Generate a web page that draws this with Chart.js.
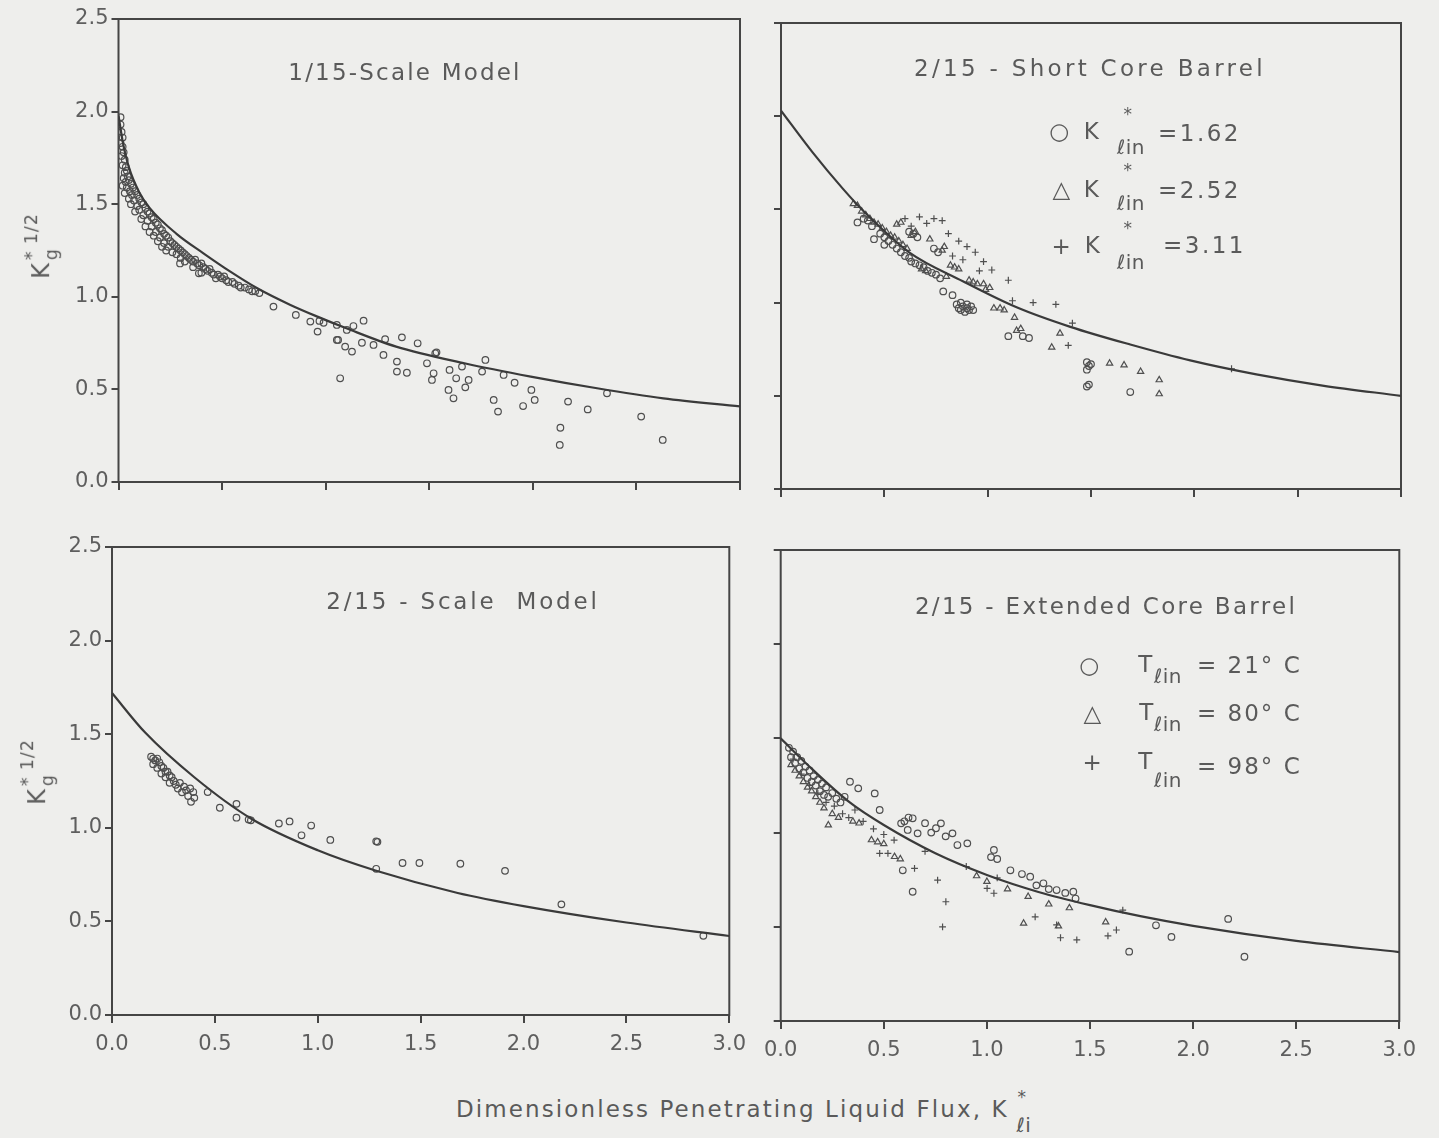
<!DOCTYPE html>
<html><head><meta charset="utf-8">
<script src="https://cdn.jsdelivr.net/npm/chart.js"></script>
<style>
html,body{margin:0;padding:0;background:#eeeeec;}
#wrap{position:relative;width:1439px;height:1138px;overflow:hidden;background:#eeeeec;font-family:"DejaVu Sans",sans-serif;color:#555;}
canvas{position:absolute;}
.t{position:absolute;white-space:nowrap;font-size:23px;letter-spacing:1.5px;color:#5a5a5a;transform:translate(-50%,-50%);line-height:1;}
.l{position:absolute;white-space:nowrap;font-size:23px;letter-spacing:1.5px;color:#5a5a5a;transform:translate(0,-50%);line-height:1;}
.s{font-size:17px;letter-spacing:0.5px;}
.sb{font-size:20px;letter-spacing:0.5px;}
.yt{position:absolute;white-space:nowrap;font-size:24px;color:#5a5a5a;transform:translate(-50%,-50%) rotate(-90deg);line-height:1;letter-spacing:1px;}
.st{display:inline-block;vertical-align:middle;font-size:0.72em;line-height:1.15;margin-left:2px;text-align:left;}
.st span{display:block;}
</style></head><body><div id="wrap">
<canvas id="c1"></canvas><canvas id="c2"></canvas><canvas id="c3"></canvas><canvas id="c4"></canvas>

<div class="t" style="left:405px;top:72px;letter-spacing:2.2px;">1/15-Scale Model</div>
<div class="t" style="left:1090px;top:68px;letter-spacing:3.3px;">2/15 - Short Core Barrel</div>
<div class="t" style="left:463px;top:601px;letter-spacing:2.8px;">2/15 - Scale &nbsp;Model</div>
<div class="t" style="left:1106px;top:606px;letter-spacing:2.3px;">2/15 - Extended Core Barrel</div>

<div class="t" style="left:1060px;top:131px;">○</div>
<div class="t" style="left:1092px;top:131px;">K</div>
<div class="t s" style="left:1128px;top:114px;">*</div>
<div class="t sb" style="left:1131px;top:147px;">ℓin</div>
<div class="l" style="left:1158px;top:133px;letter-spacing:2.5px;">=1.62</div>
<div class="t" style="left:1062px;top:189px;">△</div>
<div class="t" style="left:1092px;top:189px;">K</div>
<div class="t s" style="left:1128px;top:170px;">*</div>
<div class="t sb" style="left:1131px;top:203px;">ℓin</div>
<div class="l" style="left:1158px;top:190px;letter-spacing:2.5px;">=2.52</div>
<div class="t" style="left:1062px;top:246px;">+</div>
<div class="t" style="left:1093px;top:245px;">K</div>
<div class="t s" style="left:1128px;top:228px;">*</div>
<div class="t sb" style="left:1131px;top:262px;">ℓin</div>
<div class="l" style="left:1163px;top:245px;letter-spacing:2.5px;">=3.11</div>

<div class="t" style="left:1090px;top:665px;">○</div>
<div class="t" style="left:1146px;top:664px;">T</div>
<div class="t sb" style="left:1168px;top:676px;">ℓin</div>
<div class="l" style="left:1197px;top:665px;letter-spacing:2px;">= 21° C</div>
<div class="t" style="left:1093px;top:713px;">△</div>
<div class="t" style="left:1147px;top:712px;">T</div>
<div class="t sb" style="left:1168px;top:724px;">ℓin</div>
<div class="l" style="left:1197px;top:713px;letter-spacing:2px;">= 80° C</div>
<div class="t" style="left:1093px;top:762px;">+</div>
<div class="t" style="left:1146px;top:761px;">T</div>
<div class="t sb" style="left:1168px;top:780px;">ℓin</div>
<div class="l" style="left:1197px;top:766px;letter-spacing:2px;">= 98° C</div>

<div class="yt" style="left:42px;top:246px;">K<span class="st"><span>* 1/2</span><span>g</span></span></div>
<div class="yt" style="left:38px;top:772px;">K<span class="st"><span>* 1/2</span><span>g</span></span></div>

<div class="l" style="left:456px;top:1109px;letter-spacing:2.1px;">Dimensionless Penetrating Liquid Flux, K</div>
<div class="t s" style="left:1022px;top:1097px;">*</div>
<div class="t sb" style="left:1024px;top:1125px;">ℓi</div>
</div>
<script>
// ---------- data ----------
const xTickValues = [0.0, 0.5, 1.0, 1.5, 2.0, 2.5, 3.0];
const yTickValues = [0.0, 0.5, 1.0, 1.5, 2.0, 2.5];

// 1/15-scale model
const tlCurve = [[0,1.98],[0.02,1.84],[0.05,1.70],[0.10,1.565],[0.15,1.48],[0.28,1.34],[0.41,1.235],[0.54,1.136],[0.67,1.046],[0.83,0.956],[0.96,0.893],[1.10,0.83],[1.34,0.731],[1.67,0.641],[1.99,0.569],[2.31,0.506],[2.63,0.452],[3.0,0.408]];
const tlCircles = [[0.01,1.97],[0.01,1.93],[0.015,1.89],[0.02,1.86],[0.01,1.83],[0.02,1.81],[0.025,1.78],[0.015,1.76],[0.03,1.74],[0.02,1.71],[0.035,1.70],[0.03,1.67],[0.04,1.68],[0.025,1.64],[0.045,1.65],[0.035,1.62],[0.05,1.63],[0.02,1.60],[0.04,1.59],[0.06,1.61],[0.055,1.57],[0.07,1.59],[0.03,1.56],[0.065,1.55],[0.08,1.57],[0.05,1.53],[0.09,1.55],[0.075,1.52],[0.10,1.53],[0.06,1.50],[0.09,1.49],[0.11,1.51],[0.12,1.50],[0.10,1.47],[0.13,1.48],[0.08,1.46],[0.14,1.46],[0.12,1.44],[0.15,1.45],[0.11,1.42],[0.16,1.43],[0.14,1.41],[0.17,1.42],[0.13,1.38],[0.18,1.40],[0.16,1.38],[0.19,1.39],[0.15,1.35],[0.20,1.37],[0.18,1.35],[0.21,1.36],[0.17,1.33],[0.22,1.34],[0.20,1.32],[0.23,1.33],[0.19,1.30],[0.24,1.32],[0.22,1.29],[0.25,1.30],[0.21,1.27],[0.26,1.29],[0.24,1.27],[0.27,1.28],[0.23,1.25],[0.28,1.27],[0.26,1.24],[0.29,1.26],[0.30,1.25],[0.28,1.23],[0.31,1.24],[0.32,1.23],[0.30,1.21],[0.33,1.22],[0.34,1.21],[0.32,1.19],[0.35,1.20],[0.36,1.19],[0.37,1.20],[0.38,1.18],[0.36,1.16],[0.39,1.17],[0.40,1.18],[0.41,1.16],[0.42,1.15],[0.40,1.13],[0.43,1.14],[0.44,1.15],[0.45,1.13],[0.46,1.12],[0.48,1.12],[0.47,1.10],[0.49,1.11],[0.50,1.10],[0.51,1.11],[0.52,1.09],[0.53,1.08],[0.55,1.08],[0.56,1.07],[0.58,1.06],[0.59,1.05],[0.61,1.05],[0.63,1.04],[0.645,1.03],[0.66,1.03],[0.68,1.02],[0.297,1.18],[0.388,1.127],[0.748,0.947],[0.856,0.902],[0.926,0.866],[0.961,0.812],[0.97,0.87],[0.99,0.86],[1.06,0.767],[1.054,0.848],[1.102,0.821],[1.134,0.842],[1.183,0.871],[1.054,0.767],[1.094,0.731],[1.127,0.704],[1.07,0.56],[1.175,0.752],[1.231,0.74],[1.279,0.686],[1.287,0.771],[1.368,0.781],[1.344,0.65],[1.344,0.596],[1.392,0.59],[1.444,0.749],[1.489,0.641],[1.529,0.695],[1.535,0.70],[1.521,0.587],[1.513,0.551],[1.598,0.605],[1.63,0.56],[1.593,0.497],[1.617,0.452],[1.674,0.511],[1.69,0.551],[1.658,0.623],[1.771,0.659],[1.755,0.596],[1.859,0.578],[1.912,0.536],[1.811,0.443],[1.832,0.38],[1.953,0.41],[1.993,0.497],[2.009,0.443],[2.133,0.293],[2.13,0.20],[2.17,0.434],[2.265,0.392],[2.358,0.479],[2.523,0.353],[2.627,0.227]];

// 2/15 short core barrel
const trCurve = [[0,2.03],[0.15,1.81],[0.30,1.61],[0.40,1.49],[0.62,1.27],[0.88,1.115],[1.14,0.975],[1.40,0.87],[1.69,0.775],[1.98,0.69],[2.30,0.615],[2.62,0.555],[3.0,0.50]];
const trCircles = [[0.37,1.43],[0.40,1.45],[0.42,1.44],[0.44,1.41],[0.45,1.34],[0.48,1.37],[0.50,1.35],[0.50,1.31],[0.52,1.33],[0.54,1.31],[0.56,1.29],[0.58,1.27],[0.60,1.25],[0.62,1.24],[0.63,1.22],[0.65,1.21],[0.67,1.20],[0.69,1.19],[0.71,1.17],[0.73,1.16],[0.75,1.15],[0.77,1.13],[0.785,1.06],[0.83,1.04],[0.62,1.38],[0.64,1.37],[0.66,1.35],[0.74,1.29],[0.76,1.27],[0.85,0.99],[0.86,0.97],[0.87,0.96],[0.88,0.98],[0.89,0.95],[0.90,0.97],[0.91,0.96],[0.92,0.98],[0.93,0.96],[0.87,1.00],[0.90,0.99],[1.10,0.82],[1.17,0.82],[1.20,0.81],[1.48,0.68],[1.49,0.66],[1.50,0.67],[1.48,0.64],[1.49,0.56],[1.48,0.55],[1.69,0.52]];
const trTriangles = [[0.35,1.53],[0.37,1.52],[0.39,1.49],[0.41,1.47],[0.43,1.45],[0.45,1.43],[0.47,1.42],[0.49,1.40],[0.51,1.38],[0.53,1.36],[0.55,1.35],[0.57,1.33],[0.59,1.31],[0.61,1.29],[0.56,1.42],[0.58,1.43],[0.63,1.36],[0.65,1.38],[0.72,1.34],[0.78,1.28],[0.79,1.30],[0.82,1.20],[0.84,1.19],[0.86,1.18],[0.68,1.18],[0.70,1.17],[0.80,1.14],[0.91,1.12],[0.93,1.11],[0.95,1.10],[0.98,1.10],[0.99,1.07],[1.01,1.08],[1.03,0.97],[1.06,0.97],[1.08,0.96],[1.13,0.92],[1.14,0.85],[1.16,0.86],[1.35,0.835],[1.31,0.76],[1.59,0.674],[1.66,0.665],[1.74,0.63],[1.83,0.585],[1.83,0.51]];
const trPlus = [[0.60,1.45],[0.63,1.41],[0.67,1.46],[0.705,1.425],[0.74,1.45],[0.78,1.44],[0.81,1.37],[0.83,1.25],[0.86,1.33],[0.88,1.23],[0.90,1.30],[0.94,1.27],[0.96,1.17],[0.98,1.22],[1.02,1.175],[1.10,1.12],[1.12,1.01],[1.22,1.00],[1.33,0.99],[1.41,0.89],[1.39,0.77],[2.18,0.645]];

// 2/15 scale model
const blCurve = [[0,1.72],[0.16,1.51],[0.40,1.27],[0.675,1.05],[1.0,0.88],[1.28,0.772],[1.68,0.652],[2.0,0.582],[2.5,0.494],[3.0,0.422]];
const blCircles = [[0.19,1.38],[0.20,1.37],[0.21,1.36],[0.22,1.37],[0.20,1.34],[0.23,1.35],[0.24,1.33],[0.22,1.32],[0.25,1.32],[0.26,1.30],[0.24,1.29],[0.27,1.30],[0.28,1.28],[0.26,1.27],[0.29,1.27],[0.30,1.25],[0.28,1.24],[0.31,1.23],[0.33,1.24],[0.32,1.21],[0.35,1.22],[0.34,1.19],[0.36,1.20],[0.38,1.21],[0.37,1.17],[0.40,1.16],[0.395,1.191],[0.384,1.139],[0.465,1.191],[0.524,1.107],[0.605,1.128],[0.605,1.054],[0.664,1.044],[0.675,1.04],[0.811,1.023],[0.863,1.034],[0.968,1.012],[0.921,0.96],[1.061,0.935],[1.284,0.928],[1.29,0.925],[1.284,0.781],[1.412,0.812],[1.494,0.812],[1.693,0.808],[1.91,0.77],[2.184,0.591],[2.874,0.423]];

// 2/15 extended core barrel
const brCurve = [[0,1.50],[0.13,1.36],[0.335,1.16],[0.5,1.04],[0.75,0.89],[1.0,0.775],[1.25,0.685],[1.5,0.615],[1.75,0.555],[2.0,0.505],[2.5,0.425],[3.0,0.366]];
const brCircles = [[0.04,1.45],[0.05,1.40],[0.06,1.43],[0.07,1.37],[0.08,1.40],[0.09,1.34],[0.10,1.38],[0.11,1.32],[0.12,1.35],[0.13,1.29],[0.14,1.33],[0.15,1.27],[0.16,1.30],[0.17,1.25],[0.18,1.28],[0.19,1.22],[0.20,1.26],[0.21,1.20],[0.22,1.24],[0.23,1.19],[0.25,1.21],[0.27,1.18],[0.29,1.16],[0.31,1.19],[0.336,1.27],[0.376,1.235],[0.456,1.208],[0.48,1.12],[0.584,1.049],[0.64,1.076],[0.616,1.014],[0.664,0.996],[0.753,1.023],[0.777,1.049],[0.833,0.996],[0.857,0.934],[0.905,0.943],[0.64,0.686],[0.592,0.80],[0.60,1.06],[0.62,1.08],[0.70,1.05],[0.73,1.0],[0.80,0.98],[1.034,0.908],[1.02,0.87],[1.05,0.86],[1.114,0.80],[1.17,0.78],[1.21,0.766],[1.24,0.72],[1.274,0.731],[1.30,0.70],[1.338,0.695],[1.38,0.68],[1.419,0.686],[1.43,0.65],[1.69,0.368],[1.82,0.508],[1.895,0.446],[2.17,0.542],[2.249,0.341]];
const brTriangles = [[0.05,1.36],[0.07,1.33],[0.09,1.30],[0.11,1.27],[0.13,1.24],[0.15,1.22],[0.17,1.19],[0.19,1.16],[0.21,1.13],[0.231,1.04],[0.25,1.10],[0.28,1.08],[0.35,1.06],[0.38,1.05],[0.44,0.961],[0.47,0.95],[0.50,0.94],[0.552,0.872],[0.58,0.86],[0.95,0.77],[1.0,0.74],[1.10,0.70],[1.20,0.66],[1.30,0.62],[1.40,0.60],[1.178,0.518],[1.347,0.504],[1.576,0.525]];
const brPlus = [[0.06,1.39],[0.10,1.31],[0.14,1.25],[0.18,1.21],[0.22,1.16],[0.26,1.14],[0.30,1.10],[0.33,1.08],[0.36,1.12],[0.40,1.06],[0.45,1.02],[0.48,0.89],[0.50,0.99],[0.52,0.89],[0.55,0.96],[0.649,0.81],[0.70,0.90],[0.761,0.748],[0.801,0.633],[0.785,0.50],[0.90,0.82],[1.001,0.704],[1.034,0.678],[1.05,0.76],[1.234,0.553],[1.338,0.51],[1.357,0.442],[1.436,0.431],[1.587,0.452],[1.628,0.483],[1.659,0.588]];

// ---------- drawing ----------
const INK = '#454545';
const toPts = arr => arr.map(p => ({x:p[0], y:p[1]}));
function marks(arr, style, r){
  return {data: toPts(arr), pointStyle: style, pointRadius: r, pointBorderColor: '#4f4f4f',
          pointBackgroundColor: 'rgba(0,0,0,0)', pointBorderWidth: 1.2, showLine: false, order: 2};
}
function curve(arr){
  return {data: toPts(arr), showLine: true, pointRadius: 0, borderColor: '#3a3a3a', borderWidth: 2.2,
          cubicInterpolationMode: 'monotone', fill: false, order: 1};
}
const frame = {id:'frame', beforeDatasetsDraw(chart){
  const {ctx, chartArea:a} = chart; ctx.save(); ctx.strokeStyle = INK; ctx.lineWidth = 2;
  ctx.strokeRect(a.left, a.top, a.right - a.left, a.bottom - a.top); ctx.restore(); }};
const tickFont = {family:'"DejaVu Sans", sans-serif', size:21};

function panel(id, cv, box, showX, showY, datasets){
  const el = document.getElementById(id);
  el.style.left = cv.x + 'px'; el.style.top = cv.y + 'px';
  el.width = cv.w; el.height = cv.h; el.style.width = cv.w + 'px'; el.style.height = cv.h + 'px';
  new Chart(el, {
    type: 'scatter',
    data: {datasets},
    options: {
      responsive: false, animation: false, devicePixelRatio: 1,
      layout: {padding: {left: 0, top: box.t - cv.y, right: cv.x + cv.w - box.r, bottom: 0}},
      plugins: {legend: {display: false}, tooltip: {enabled: false}},
      scales: {
        x: {type: 'linear', min: 0, max: 3,
            afterBuildTicks: s => { s.ticks = xTickValues.map(v => ({value: v})); },
            ticks: {display: showX, callback: v => Number(v).toFixed(1), font: tickFont, color: '#5e5e5e', padding: 9, maxRotation: 0, autoSkip: false},
            grid: {display: true, drawOnChartArea: false, drawTicks: true, tickLength: 8, color: INK, lineWidth: 2},
            border: {display: false},
            afterFit: s => { s.height = cv.y + cv.h - box.b; }},
        y: {type: 'linear', min: 0, max: 2.5,
            afterBuildTicks: s => { s.ticks = yTickValues.map(v => ({value: v})); },
            ticks: {display: showY, callback: v => Number(v).toFixed(1), font: tickFont, color: '#5e5e5e', padding: 3, autoSkip: false},
            grid: {display: true, drawOnChartArea: false, drawTicks: true, tickLength: 7, color: INK, lineWidth: 2},
            border: {display: false},
            afterFit: s => { s.width = box.l - cv.x; }}
      }
    },
    plugins: [frame]
  });
}

panel('c1', {x:60, y:0, w:700, h:515}, {l:118.5, t:19, r:740, b:482}, false, true,
  [curve(tlCurve), marks(tlCircles, 'circle', 3.3)]);
panel('c2', {x:760, y:0, w:665, h:515}, {l:781, t:23, r:1401, b:489}, false, false,
  [curve(trCurve), marks(trCircles, 'circle', 3.3), marks(trTriangles, 'triangle', 3.6), marks(trPlus, 'cross', 3.4)]);
panel('c3', {x:50, y:525, w:705, h:555}, {l:112, t:547, r:734, b:1015}, true, true,
  [curve(blCurve), marks(blCircles, 'circle', 3.3)]);
panel('c4', {x:755, y:525, w:670, h:555}, {l:777, t:550, r:1400, b:1021}, true, false,
  [curve(brCurve), marks(brCircles, 'circle', 3.3), marks(brTriangles, 'triangle', 3.6), marks(brPlus, 'cross', 3.4)]);
</script>
</body></html>
